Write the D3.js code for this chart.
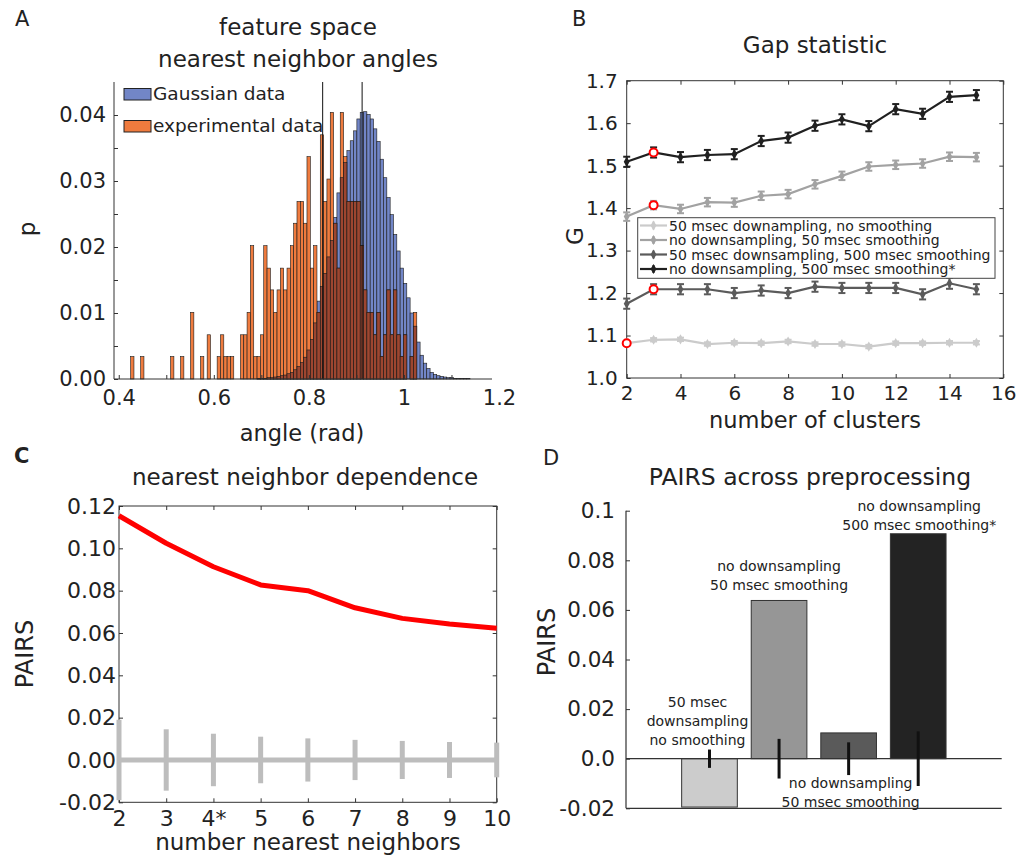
<!DOCTYPE html>
<meta charset="utf-8">
<style>
  body { margin: 0; background: #fff; }
  svg { display: block; font-family: "DejaVu Sans", sans-serif; }
  text { fill: #222; }
</style>
<body>
<script src="https://cdnjs.cloudflare.com/ajax/libs/d3/7.8.5/d3.min.js"></script>
<script>

// ---------- A: nearest neighbor angle histograms ----------
var binWidth = 0.007;
var expStart = 0.425;
var expProb = [.0034,0,0,.0034,0,0,0,0,0,0,0,0,
  .0034,0,0,.0034,0,0,
  .0101,0,0,.0034,0,
  .0067,0,0,
  .0034,.0067,.0034,.0034,.0034,0,0,
  .0067,.0067,.0101,.0202,.0034,.0034,.0067,
  .0202,.0168,.0135,.0101,.0135,.0168,.0135,.0168,.0202,.0236,.0269,.0269,.0236,
  .0337,.0168,.0202,.0101,.037,.0269,.0303,.0404,.0236,.0168,.0404,.0337,.0269,.0269,.0269,.0269,
  .0202,.0135,.0101,.0101,.0067,.0101,.0034,.0067,.0135,.0067,.0135,.0067,.0034,.0067,0,.0034,.0101];
var gaussStart = 0.691;
var gaussProb = [.0001,.0001,.0001,.0002,.0002,.0003,.0004,.0005,.0006,.0008,
  .0010,.0014,.0019,.0025,.0033,.0044,.0060,.0085,.0118,.0140,
  .0160,.0185,.0210,.0245,.0282,.0305,.0328,.0346,.0361,.0376,
  .0394,.0404,.0405,.0401,.0394,.0379,.0360,.0333,.0305,.0275,
  .0249,.0219,.0194,.0168,.0145,.0123,.0100,.0080,.0056,.0036,
  .0024,.0016,.0010,.0007,.0005,.0004,.0003,.0002,.0002,.0001,
  .0001,.0001,.0001,.0001];
var meanAngles = [0.829, 0.912];
var angleTicks = [0.4, 0.5, 0.6, 0.7, 0.8, 0.9, 1.0, 1.1, 1.2];
var pTicks = [0, 0.005, 0.01, 0.015, 0.02, 0.025, 0.03, 0.035, 0.04];

// ---------- B: gap statistic ----------
var clusters = [2, 3, 4, 5, 6, 7, 8, 9, 10, 11, 12, 13, 14, 15];
var gapNames = ["50 msec downampling, no smoothing",
  "no downsampling, 50 msec smoothing",
  "50 msec downsampling, 500 msec smoothing",
  "no downsampling, 500 msec smoothing*"];
var gapValues = [
  [1.082,1.090,1.091,1.080,1.083,1.082,1.086,1.080,1.080,1.074,1.082,1.082,1.083,1.083],
  [1.380,1.407,1.398,1.414,1.413,1.429,1.433,1.456,1.476,1.498,1.502,1.505,1.521,1.520],
  [1.175,1.209,1.209,1.209,1.200,1.206,1.200,1.215,1.212,1.212,1.212,1.197,1.223,1.209],
  [1.509,1.531,1.520,1.525,1.527,1.558,1.566,1.594,1.609,1.593,1.633,1.622,1.662,1.666]];
var gapErrors = [
  [.004,.004,.004,.004,.004,.004,.004,.004,.004,.004,.004,.004,.004,.004],
  [.010,.010,.010,.010,.010,.010,.010,.010,.010,.010,.010,.010,.010,.010],
  [.012,.012,.012,.012,.012,.012,.012,.012,.012,.012,.012,.012,.013,.012],
  [.012,.012,.012,.012,.012,.012,.012,.012,.012,.012,.012,.012,.012,.012]];
var gapChosenK = [2, 3, 3, 3];
var gapColors = ["#cbcbcb", "#a2a2a2", "#5b5b5b", "#202020"];

// ---------- C: nearest neighbor dependence ----------
var neighbors = [2, 3, 4, 5, 6, 7, 8, 9, 10];
var neighborLabels = ["2", "3", "4*", "5", "6", "7", "8", "9", "10"];
var pairsByK = [0.1154, 0.1024, 0.0913, 0.0827, 0.0800, 0.0719, 0.0669, 0.0642, 0.0622];
var nullErrByK = [0.019, 0.0145, 0.0124, 0.011, 0.0102, 0.0095, 0.009, 0.0085, 0.0082];
var pairsTicks = [-0.02, 0, 0.02, 0.04, 0.06, 0.08, 0.10, 0.12];

// ---------- D: PAIRS across preprocessing ----------
var prepLabels = [["50 msec", "downsampling", "no smoothing"],
  ["no downsampling", "50 msec smoothing"],
  ["no downsampling", "50 msec smoothing"],
  ["no downsampling", "500 msec smoothing*"]];
var prepPairs = [-0.0195, 0.0638, 0.0104, 0.0907];
var prepNullErr = [0.0037, 0.0080, 0.0066, 0.0110];
var prepColors = ["#cccccc", "#969696", "#5a5a5a", "#232323"];
var prepTicks = [-0.02, 0, 0.02, 0.04, 0.06, 0.08, 0.1];

var svg = d3.select("body").append("svg")
    .attr("width", 1017)
    .attr("height", 857);

// plain hyphen for negatives, as in the original figure
function fmt(spec) {
  var f = d3.format(spec);
  return function(d) { return f(d).replace("\u2212", "-"); };
}

function styleAxis(g, size) {
  g.select(".domain").remove();
  g.selectAll("line").attr("stroke", "#333");
  g.attr("font-family", null);
  g.selectAll("text").attr("font-size", size).attr("fill", "#222");
}

function label(x, y, txt, size, opts) {
  opts = opts || {};
  var t = svg.append("text")
      .attr("x", x).attr("y", y)
      .attr("font-size", size)
      .attr("text-anchor", opts.anchor || "middle")
      .attr("font-weight", opts.bold ? "bold" : null)
      .text(txt);
  if (opts.rotate) {
    t.attr("x", 0).attr("y", 0)
     .attr("transform", "translate(" + x + "," + y + ") rotate(-90)");
  }
  return t;
}

// ================= panel A =================
var xA = d3.scaleLinear().domain([0.39, 1.2]).range([114, 499]);
var yA = d3.scaleLinear().domain([0, 0.045]).range([379, 82]);
var bwA = xA(binWidth) - xA(0);

svg.append("g").selectAll("rect")
  .data(gaussProb)
  .join("rect")
    .attr("x", function(d, i) { return xA(gaussStart + i * binWidth); })
    .attr("width", bwA)
    .attr("y", function(d) { return yA(d); })
    .attr("height", function(d) { return yA(0) - yA(d); })
    .attr("fill", "#7286c7")
    .attr("stroke", "#1a1a1a")
    .attr("stroke-width", 0.6);

var expBins = expProb.map(function(p, i) {
  var x0 = expStart + i * binWidth;
  var j = Math.round((x0 - gaussStart) / binWidth);
  var g = (j >= 0 && j < gaussProb.length) ? gaussProb[j] : 0;
  return {x0: x0, p: p, both: Math.min(p, g)};
}).filter(function(d) { return d.p > 0; });

svg.append("g").selectAll("rect")
  .data(expBins)
  .join("rect")
    .attr("x", function(d) { return xA(d.x0); })
    .attr("width", bwA)
    .attr("y", function(d) { return yA(d.p); })
    .attr("height", function(d) { return yA(0) - yA(d.p); })
    .attr("fill", "#ef7b3e")
    .attr("stroke", "#1a1a1a")
    .attr("stroke-width", 0.6);

svg.append("g").selectAll("rect")
  .data(expBins.filter(function(d) { return d.both > 0; }))
  .join("rect")
    .attr("x", function(d) { return xA(d.x0); })
    .attr("width", bwA)
    .attr("y", function(d) { return yA(d.both); })
    .attr("height", function(d) { return yA(0) - yA(d.both); })
    .attr("fill", "#9d4630")
    .attr("stroke", "#1a1a1a")
    .attr("stroke-width", 0.6);

svg.append("g").selectAll("line")
  .data(meanAngles)
  .join("line")
    .attr("x1", function(d) { return xA(d); })
    .attr("x2", function(d) { return xA(d); })
    .attr("y1", yA(0))
    .attr("y2", yA(0.045))
    .attr("stroke", "#111")
    .attr("stroke-width", 1);

var ayA = svg.append("g")
    .attr("transform", "translate(114,0)")
    .call(d3.axisLeft(yA).tickValues(pTicks).tickSize(-4).tickPadding(8)
      .tickFormat(function(d) { return Math.round(d * 1000) % 10 === 0 ? d3.format(".2f")(d) : ""; }));
styleAxis(ayA, 21);

var axA = svg.append("g")
    .attr("transform", "translate(0,379)")
    .call(d3.axisBottom(xA).tickValues(angleTicks).tickSize(-4).tickPadding(11)
      .tickFormat(function(d) { return Math.round(d * 10) % 2 === 0 ? d3.format("~g")(d) : ""; }));
styleAxis(axA, 21);
axA.selectAll(".tick").filter(function(d) { return d > 1.15; }).select("line").remove();

svg.append("path")
    .attr("d", "M114,82V379H492")
    .attr("fill", "none")
    .attr("stroke", "#333");

// legend A
[["Gaussian data", "#7286c7", 88.5], ["experimental data", "#ef7b3e", 120.5]].forEach(function(l) {
  svg.append("rect").attr("x", 124).attr("y", l[2]).attr("width", 27).attr("height", 11.5)
    .attr("fill", l[1]).attr("stroke", "#222").attr("stroke-width", 1);
  label(153, l[2] + 11.5, l[0], 18.5, {anchor: "start"});
});

label(298, 35, "feature space", 23);
label(298, 67, "nearest neighbor angles", 23);
label(302, 441, "angle (rad)", 22.5);
label(35, 229, "p", 23, {rotate: true});
label(15, 26, "A", 21, {anchor: "start"});

// ================= panel B =================
var xB = d3.scaleLinear().domain([2, 16]).range([626.7, 1003.3]);
var yB = d3.scaleLinear().domain([1.0, 1.7]).range([378, 80.7]);

svg.append("rect")
    .attr("x", 626.7).attr("y", 80.7)
    .attr("width", 376.6).attr("height", 297.3)
    .attr("fill", "none").attr("stroke", "#333");

var bxTicks = [2, 4, 6, 8, 10, 12, 14, 16];
var byTicks = [1.0, 1.1, 1.2, 1.3, 1.4, 1.5, 1.6, 1.7];
styleAxis(svg.append("g").attr("transform", "translate(0,378)")
  .call(d3.axisBottom(xB).tickValues(bxTicks).tickSize(-4).tickPadding(8)), 20);
styleAxis(svg.append("g").attr("transform", "translate(0,80.7)")
  .call(d3.axisTop(xB).tickValues(bxTicks).tickSize(-4).tickFormat("")), 20);
styleAxis(svg.append("g").attr("transform", "translate(626.7,0)")
  .call(d3.axisLeft(yB).tickValues(byTicks).tickSize(-4).tickPadding(9).tickFormat(d3.format(".1f"))), 20);
styleAxis(svg.append("g").attr("transform", "translate(1003.3,0)")
  .call(d3.axisRight(yB).tickValues(byTicks).tickSize(-4).tickFormat("")), 20);

var gapLine = d3.line()
    .x(function(d) { return xB(d.k); })
    .y(function(d) { return yB(d.v); });
var diamond = d3.symbol().type(d3.symbolDiamond).size(30);

gapValues.forEach(function(vals, s) {
  var pts = vals.map(function(v, i) { return {k: clusters[i], v: v, e: gapErrors[s][i]}; });
  var g = svg.append("g");
  var col = gapColors[s];
  g.append("path").datum(pts).attr("d", gapLine)
    .attr("fill", "none").attr("stroke", col).attr("stroke-width", 2.2);
  var eb = g.selectAll(".eb").data(pts).join("g");
  eb.append("line")
    .attr("x1", function(d) { return xB(d.k); }).attr("x2", function(d) { return xB(d.k); })
    .attr("y1", function(d) { return yB(d.v - d.e); }).attr("y2", function(d) { return yB(d.v + d.e); })
    .attr("stroke", col).attr("stroke-width", 2);
  [-1, 1].forEach(function(sg) {
    eb.append("line")
      .attr("x1", function(d) { return xB(d.k) - 3.5; }).attr("x2", function(d) { return xB(d.k) + 3.5; })
      .attr("y1", function(d) { return yB(d.v + sg * d.e); }).attr("y2", function(d) { return yB(d.v + sg * d.e); })
      .attr("stroke", col).attr("stroke-width", 2);
  });
  eb.append("path")
    .attr("transform", function(d) { return "translate(" + xB(d.k) + "," + yB(d.v) + ")"; })
    .attr("d", diamond).attr("fill", col);
});

svg.append("g").selectAll("circle")
  .data(gapChosenK.map(function(k, s) { return {k: k, v: gapValues[s][clusters.indexOf(k)]}; }))
  .join("circle")
    .attr("cx", function(d) { return xB(d.k); })
    .attr("cy", function(d) { return yB(d.v); })
    .attr("r", 4)
    .attr("fill", "#fff")
    .attr("stroke", "#f00")
    .attr("stroke-width", 2);

// legend B
svg.append("rect")
    .attr("x", 637.7).attr("y", 217.7).attr("width", 357.3).attr("height", 60.6)
    .attr("fill", "#fff").attr("stroke", "#444").attr("stroke-width", 1);
gapNames.forEach(function(name, s) {
  var cy = 225.5 + s * 14.5;
  var col = gapColors[s];
  svg.append("line").attr("x1", 640).attr("x2", 667).attr("y1", cy).attr("y2", cy)
    .attr("stroke", col).attr("stroke-width", 2.2);
  svg.append("line").attr("x1", 653.5).attr("x2", 653.5).attr("y1", cy - 4).attr("y2", cy + 4)
    .attr("stroke", col).attr("stroke-width", 2);
  svg.append("path").attr("transform", "translate(653.5," + cy + ")")
    .attr("d", diamond).attr("fill", col);
  label(669, cy + 5, name, 14, {anchor: "start"});
});

label(815, 53, "Gap statistic", 23);
label(815, 428, "number of clusters", 22.5);
label(583, 236, "G", 23, {rotate: true});
label(572, 26, "B", 21, {anchor: "start"});

// ================= panel C =================
var xC = d3.scaleLinear().domain([2, 10]).range([119, 496.7]);
var yC = d3.scaleLinear().domain([-0.02, 0.12]).range([802.3, 506]);

svg.append("rect")
    .attr("x", 119).attr("y", 506)
    .attr("width", 377.7).attr("height", 296.3)
    .attr("fill", "none").attr("stroke", "#333");

styleAxis(svg.append("g").attr("transform", "translate(0,802.3)")
  .call(d3.axisBottom(xC).tickValues(neighbors).tickSize(-4).tickPadding(8)
    .tickFormat(function(d, i) { return neighborLabels[i]; })), 22);
styleAxis(svg.append("g").attr("transform", "translate(0,506)")
  .call(d3.axisTop(xC).tickValues(neighbors).tickSize(-4).tickFormat("")), 22);
styleAxis(svg.append("g").attr("transform", "translate(119,0)")
  .call(d3.axisLeft(yC).tickValues(pairsTicks).tickSize(-4).tickPadding(3).tickFormat(fmt(".2f"))), 22);
styleAxis(svg.append("g").attr("transform", "translate(496.7,0)")
  .call(d3.axisRight(yC).tickValues(pairsTicks).tickSize(-4).tickFormat("")), 22);

var nullPts = neighbors.map(function(k, i) { return {k: k, e: nullErrByK[i]}; });
svg.append("path").datum(nullPts)
    .attr("d", d3.line().x(function(d) { return xC(d.k); }).y(yC(0)))
    .attr("fill", "none").attr("stroke", "#bdbdbd").attr("stroke-width", 5);
svg.append("g").selectAll("line")
  .data(nullPts)
  .join("line")
    .attr("x1", function(d) { return xC(d.k); }).attr("x2", function(d) { return xC(d.k); })
    .attr("y1", function(d) { return yC(-d.e); }).attr("y2", function(d) { return yC(d.e); })
    .attr("stroke", "#bdbdbd").attr("stroke-width", 5);

svg.append("path")
    .datum(neighbors.map(function(k, i) { return {k: k, v: pairsByK[i]}; }))
    .attr("d", d3.line().x(function(d) { return xC(d.k); }).y(function(d) { return yC(d.v); }))
    .attr("fill", "none").attr("stroke", "#ff0000").attr("stroke-width", 5)
    .attr("stroke-linejoin", "round");

label(305, 485, "nearest neighbor dependence", 23);
label(308, 850, "number nearest neighbors", 23);
label(33, 654, "PAIRS", 24, {rotate: true});
label(14, 463, "C", 21, {anchor: "start", bold: true});

// ================= panel D =================
var xD = d3.scaleLinear().domain([-0.2, 5.2]).range([626, 1001.7]);
var yD = d3.scaleLinear().domain([-0.02, 0.1]).range([808.3, 510.7]);
var barW = xD(0.8) - xD(0);

svg.append("g").selectAll("rect")
  .data(prepPairs)
  .join("rect")
    .attr("x", function(d, i) { return xD(i + 1) - barW / 2; })
    .attr("width", barW)
    .attr("y", function(d) { return yD(Math.max(0, d)); })
    .attr("height", function(d) { return Math.abs(yD(d) - yD(0)); })
    .attr("fill", function(d, i) { return prepColors[i]; })
    .attr("stroke", "#333")
    .attr("stroke-width", 1);

svg.append("path")
    .attr("d", "M626," + yD(0) + "H1001.7M626," + yD(-0.02) + "H1001.7M626," + yD(0.1) + "V" + yD(-0.02))
    .attr("fill", "none").attr("stroke", "#333").attr("stroke-width", 1.2);

svg.append("g").selectAll("line")
  .data(prepNullErr)
  .join("line")
    .attr("x1", function(d, i) { return xD(i + 1); }).attr("x2", function(d, i) { return xD(i + 1); })
    .attr("y1", function(d) { return yD(-d); }).attr("y2", function(d) { return yD(d); })
    .attr("stroke", "#111").attr("stroke-width", 3);

var f2 = fmt(".2f");
styleAxis(svg.append("g").attr("transform", "translate(626,0)")
  .call(d3.axisLeft(yD).tickValues(prepTicks).tickSize(-4).tickPadding(11)
    .tickFormat(function(d) { return d === 0 ? "0.0" : (d === 0.1 ? "0.1" : f2(d)); })), 21.5);

// label placement for each bar: horizontal shift and first baseline
var prepLabelPos = [
  {dx: -12, y: yD(0) - 52},
  {dx: 0, y: yD(prepPairs[1]) - 29},
  {dx: 2, y: yD(0) + 29},
  {dx: 1, y: yD(prepPairs[3]) - 23}];
prepLabels.forEach(function(lines, i) {
  lines.forEach(function(txt, j) {
    label(xD(i + 1) + prepLabelPos[i].dx, prepLabelPos[i].y + j * 19, txt, 14);
  });
});

label(810, 485, "PAIRS across preprocessing", 23.5);
label(555, 642, "PAIRS", 24, {rotate: true});
label(543, 465, "D", 21, {anchor: "start"});

</script>
</body>
